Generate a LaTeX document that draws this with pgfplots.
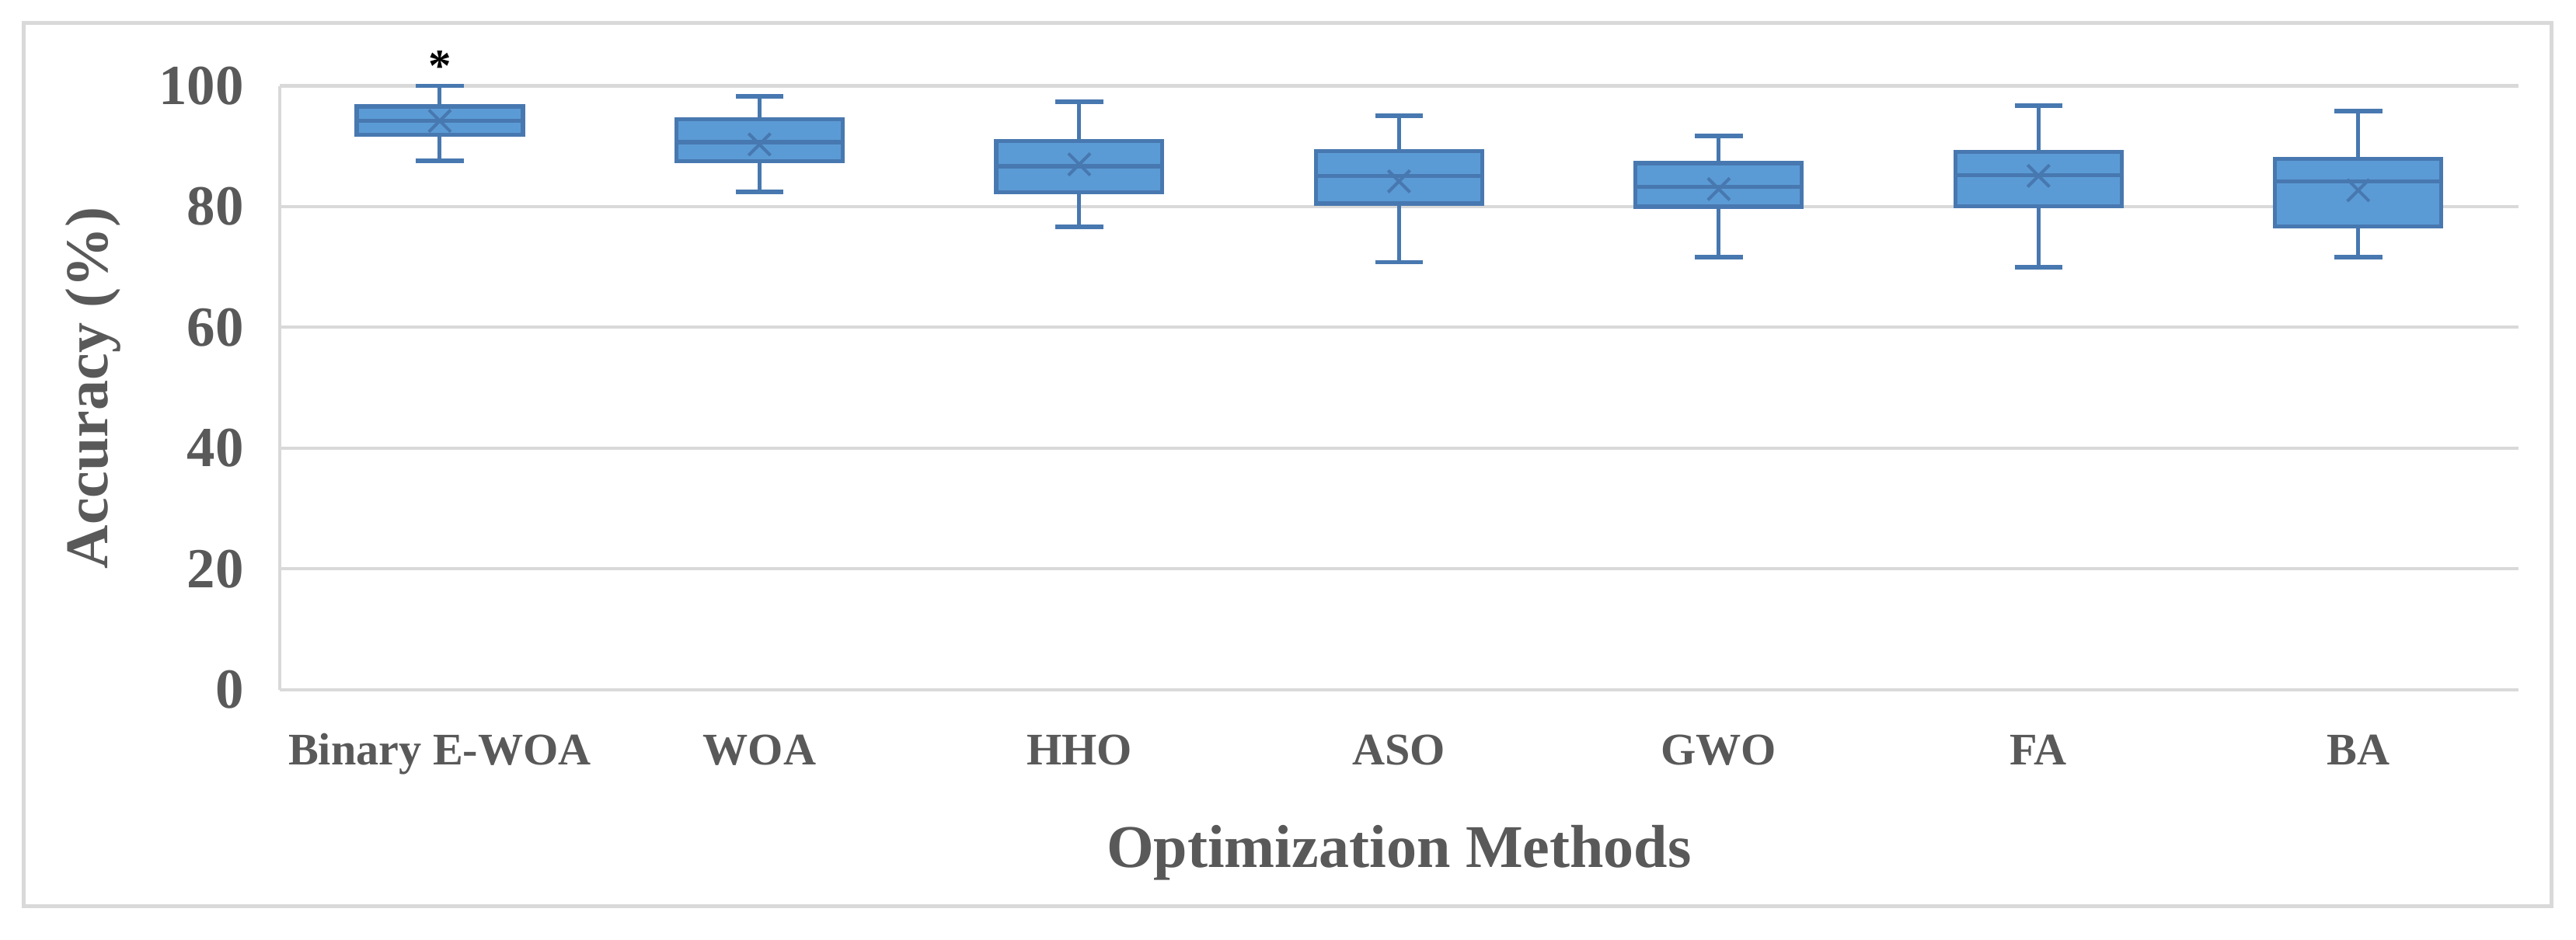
\documentclass[border=0pt]{standalone}
\usepackage{fontspec}
\setmainfont{Liberation Serif}
\usepackage{pgfplots}
\pgfplotsset{compat=1.18}
\definecolor{boxfill}{HTML}{5B9BD5}
\definecolor{boxline}{HTML}{4878B0}
\definecolor{gridc}{HTML}{D9D9D9}
\definecolor{txt}{HTML}{595959}

% one box: #1 left, #2 centre, #3 right, #4 lower whisker, #5 Q1, #6 median, #7 Q3, #8 upper whisker, #9 cap half width
\newcommand{\onebox}[9]{%
  \addplot[draw=boxline, line width=0.68pt] coordinates {(#2,#5) (#2,#4)};
  \addplot[draw=boxline, line width=0.68pt] coordinates {(#2,#7) (#2,#8)};
  \addplot[draw=boxline, line width=0.8pt] coordinates {(#2-#9,#4) (#2+#9,#4)};
  \addplot[draw=boxline, line width=0.8pt] coordinates {(#2-#9,#8) (#2+#9,#8)};
  \addplot[draw=boxline, fill=boxfill, line width=0.7pt] coordinates {(#1,#5) (#3,#5) (#3,#7) (#1,#7)} -- cycle;
  \addplot[draw=boxline, line width=0.75pt] coordinates {(#1,#6) (#3,#6)};
}

\begin{document}
\begin{tikzpicture}
\begin{axis}[
  at={(0,0)}, anchor=south west,
  scale only axis, width=391pt, height=105.5pt,
  xmin=-0.5, xmax=6.5, ymin=0, ymax=100,
  xtick={0,...,6},
  xticklabels={Binary E-WOA, WOA, HHO, ASO, GWO, FA, BA},
  ytick={0,20,...,100},
  axis x line=bottom, axis y line=left,
  axis line style={draw=gridc, line width=0.55pt, -},
  ymajorgrids, grid style={draw=gridc, line width=0.55pt},
  major tick length=0pt,
  /pgf/number format/assume math mode=true,
  xticklabel style={font=\fontsize{7.9}{9}\selectfont\bfseries, text=txt, anchor=base, yshift=-13.2pt, inner sep=0pt},
  yticklabel style={font=\fontsize{9.9}{12}\selectfont\bfseries, text=txt, anchor=east, xshift=-6.1pt, inner sep=0pt},
  xlabel={Optimization Methods},
  ylabel={Accuracy (\%)},
  xlabel style={font=\fontsize{10.6}{12}\selectfont\bfseries, text=txt, at={([yshift=-31.1pt]axis description cs:0.5,0)}, anchor=base, inner sep=0pt},
  ylabel style={font=\fontsize{10.6}{12}\selectfont\bfseries, text=txt, at={([xshift=-30.1pt]axis description cs:0,0.5)}, anchor=base, inner sep=0pt},
  clip=false,
]
% left, centre, right, lower whisker, Q1, median, Q3, upper whisker, cap
\onebox{-0.26}{0}{0.26}{87.6}{91.9}{94.2}{96.6}{100}{0.075}
\onebox{0.74}{1}{1.26}{82.4}{87.5}{90.7}{94.5}{98.3}{0.075}
\onebox{1.74}{2}{2.26}{76.6}{82.4}{86.7}{90.9}{97.4}{0.075}
\onebox{2.74}{3}{3.26}{70.8}{80.5}{85.1}{89.2}{95.1}{0.075}
\onebox{3.74}{4}{4.26}{71.6}{80.0}{83.3}{87.2}{91.7}{0.075}
\onebox{4.74}{5}{5.26}{70.0}{80.1}{85.2}{89.1}{96.7}{0.075}
\onebox{5.74}{6}{6.26}{71.6}{76.7}{84.2}{87.9}{95.8}{0.075}

% means
\addplot[only marks, mark=x, mark size=2.7pt, mark options={draw=boxline, line width=0.55pt}] coordinates {
  (0,94.2) (1,90.3) (2,87.0) (3,84.2) (4,82.9) (5,85.1) (6,82.7)
};

\node[font=\fontsize{8}{9}\selectfont\bfseries, anchor=base, inner sep=0pt] at (axis cs:0,100.8) {*};
\end{axis}
\draw[gridc, line width=0.7pt] (-44.8pt,-37.9pt) rectangle (396.8pt,116.5pt);
\pgfresetboundingbox
\path[use as bounding box] (-48.9pt,-43.7pt) rectangle (401.1pt,120.5pt);
\end{tikzpicture}
\end{document}
